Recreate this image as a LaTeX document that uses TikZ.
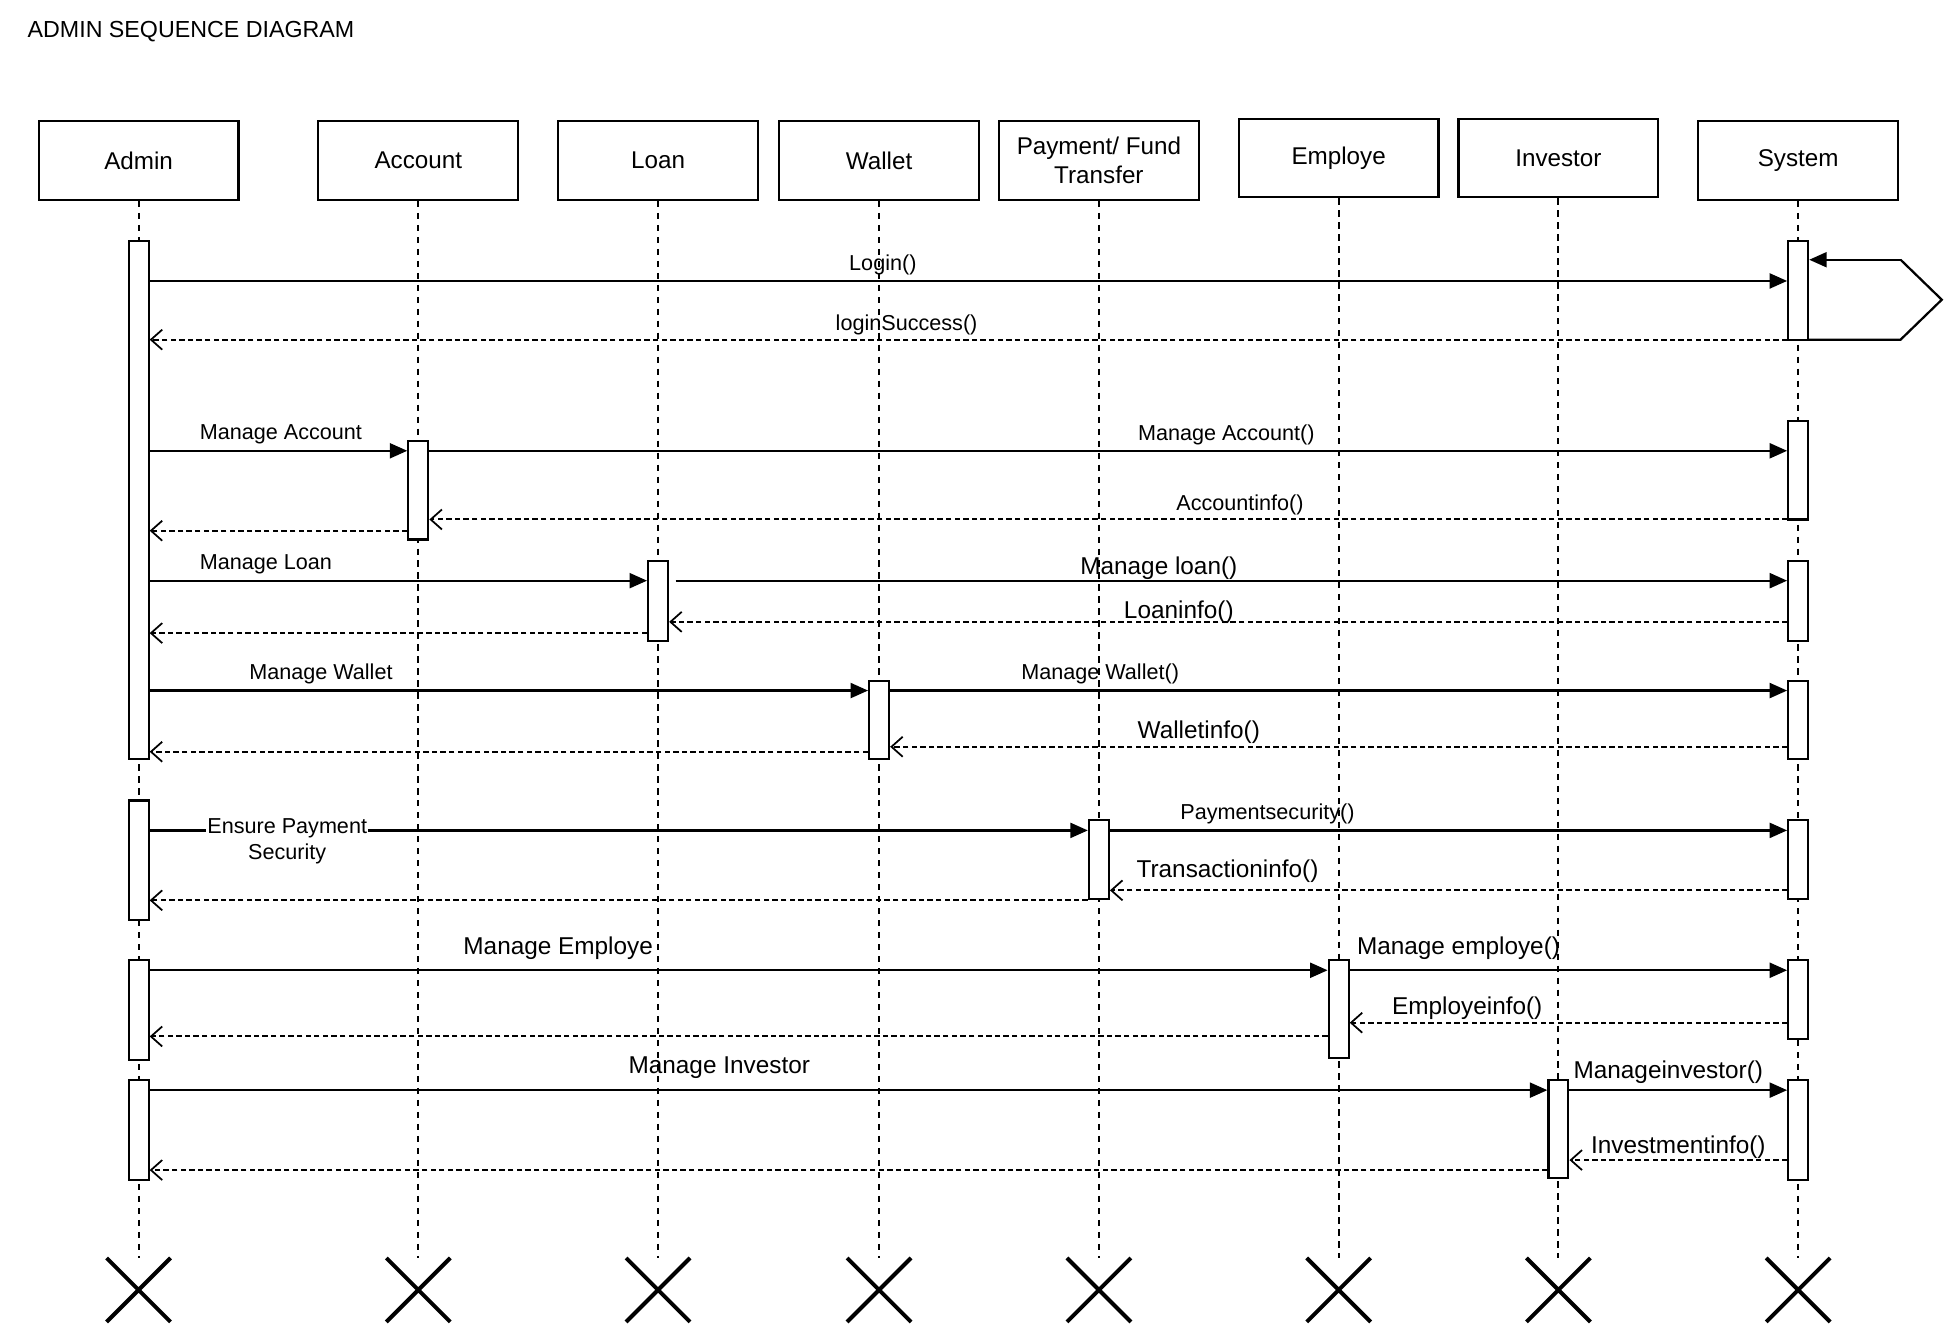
\documentclass[tikz,border=0pt]{standalone}
\usepackage{fontspec}
\setmainfont{Liberation Sans}
\usetikzlibrary{arrows.meta,shapes.misc}
\tikzset{
  obj/.style={draw,line width=1.7pt,minimum width=160,minimum height=63,inner sep=0,align=center,font=\fontsize{19.4}{23.5}\selectfont},
  act/.style={draw,fill=white,line width=1.7pt,minimum width=16,inner sep=0},
  life/.style={line width=1.6pt,dash pattern=on 5pt off 4.6pt},
  msg/.style={line width=1.8pt,-{Triangle[length=14pt,width=12pt]}},
  ret/.style={line width=1.6pt,dash pattern=on 4.3pt off 2.6pt,-{Straight Barb[length=9pt,width=16pt,line width=1.4pt]}},
  sm/.style={font=\fontsize{17.3}{21}\selectfont,inner sep=0,yshift=-2pt},
  bg/.style={font=\fontsize{19.5}{23}\selectfont,inner sep=0,yshift=-2pt},
  xmark/.style={cross out,draw,line width=3.2pt,minimum size=48,inner sep=0}
}
\newcommand\actbar[4]{\node[act,minimum height={#4-#3}] (#1) at (#2,{(#3+#4)/2}) {};}
\begin{document}
\begin{tikzpicture}[x=1pt,y=-1pt]
\useasboundingbox (0,0) rectangle (1568,1060);
\node[anchor=west,inner sep=0,font=\fontsize{18.6}{22}\selectfont] (title) at (22,25.5) {ADMIN SEQUENCE DIAGRAM};
% objects
\node[obj] (admin) at (111,128.5) {Admin};
\node[obj] (account) at (335,128.5) {Account};
\node[obj] (loan) at (527,128.5) {Loan};
\node[obj] (wallet) at (704,128.5) {Wallet};
\node[obj] (payment) at (880,128.5) {Payment/ Fund\\Transfer};
\node[obj] (employe) at (1072,126.5) {Employe};
\node[obj] (investor) at (1248,126.5) {Investor};
\node[obj] (system) at (1440,128.5) {System};
% destruction marks
\foreach \n/\x in {admin/111,account/335,loan/527,wallet/704,payment/880,employe/1072,investor/1248,system/1440}{
  \node[xmark] (x\n) at (\x,1033) {};
  \draw[life] (\n.south) -- (x\n.north);
}
% activation bars
\actbar{a1}{111}{193}{608}
\actbar{a2}{111}{641}{737}
\actbar{a3}{111}{769}{849}
\actbar{a4}{111}{865}{945}
\actbar{ac1}{335}{353}{432}
\actbar{lo1}{527}{449}{513}
\actbar{wa1}{704}{545}{608}
\actbar{pa1}{880}{657}{720}
\actbar{em1}{1072}{769}{847}
\actbar{in1}{1248}{865}{943}
\actbar{s1}{1440}{193}{272}
\actbar{s2}{1440}{337}{416}
\actbar{s3}{1440}{449}{513}
\actbar{s4}{1440}{545}{608}
\actbar{s5}{1440}{657}{720}
\actbar{s6}{1440}{769}{832}
\actbar{s7}{1440}{865}{945}
% login
\draw[msg] (a1.east |- 0,225) -- (s1.west |- 0,225);
\draw[ret] (s1.west |- 0,272) -- (a1.east |- 0,272);
\coordinate (selfa) at (1522,272);
\coordinate (selfb) at (1555,240);
\coordinate (selfc) at (1522,208);
\draw[msg,-] (s1.east |- 0,272) -- (selfa) -- (selfb) -- (selfc);
\draw[msg] (selfc) -- (s1.east |- 0,208);
\node[sm] (l1) at (707,210) {Login()};
\node[sm] (l2) at (726,258) {loginSuccess()};
% account
\draw[msg] (a1.east |- 0,361) -- (ac1.west |- 0,361);
\draw[msg] (ac1.east |- 0,361) -- (s2.west |- 0,361);
\draw[ret] (s2.west |- 0,416) -- (ac1.east |- 0,416);
\draw[ret] (ac1.west |- 0,425) -- (a1.east |- 0,425);
\node[sm] (l3) at (225,346) {Manage Account};
\node[sm] (l4) at (982,346) {Manage Account()};
\node[sm] (l5) at (993,402) {Accountinfo()};
% loan
\coordinate (loanstart) at (541,465);
\draw[msg] (a1.east |- 0,465) -- (lo1.west |- 0,465);
\draw[msg] (loanstart) -- (s3.west |- loanstart);
\draw[ret] (s3.west |- 0,498) -- (lo1.east |- 0,498);
\draw[ret] (lo1.west |- 0,507) -- (a1.east |- 0,507);
\node[sm] (l6) at (213,450) {Manage Loan};
\node[bg] (l7) at (928,453) {Manage loan()};
\node[bg] (l8) at (944,488) {Loaninfo()};
% wallet
\draw[msg] (a1.east |- 0,553) -- (wa1.west |- 0,553);
\draw[msg] (wa1.east |- 0,553) -- (s4.west |- 0,553);
\draw[ret] (s4.west |- 0,598) -- (wa1.east |- 0,598);
\draw[ret] (wa1.west |- 0,602) -- (a1.east |- 0,602);
\node[sm] (l9) at (257,538) {Manage Wallet};
\node[sm] (l10) at (881,538) {Manage Wallet()};
\node[bg] (l11) at (960,584) {Walletinfo()};
% payment
\draw[msg] (a2.east |- 0,665) -- (pa1.west |- 0,665);
\draw[msg] (pa1.east |- 0,665) -- (s5.west |- 0,665);
\draw[ret] (s5.west |- 0,713) -- (pa1.east |- 0,713);
\draw[ret] (pa1.west |- 0,721) -- (a2.east |- 0,721);
\node[sm,fill=white,align=center,inner sep=1pt] (l12) at (230,671.5) {Ensure Payment\\Security};
\node[sm] (l13) at (1015,650) {Paymentsecurity()};
\node[bg] (l14) at (983,696) {Transactioninfo()};
% employe
\draw[msg] (a3.east |- 0,777) -- (em1.west |- 0,777);
\draw[msg] (em1.east |- 0,777) -- (s6.west |- 0,777);
\draw[ret] (s6.west |- 0,819) -- (em1.east |- 0,819);
\draw[ret] (em1.west |- 0,830) -- (a3.east |- 0,830);
\node[bg] (l15) at (447,757) {Manage Employe};
\node[bg] (l16) at (1168,757) {Manage employe()};
\node[bg] (l17) at (1175,805) {Employeinfo()};
% investor
\draw[msg] (a4.east |- 0,873) -- (in1.west |- 0,873);
\draw[msg] (in1.east |- 0,873) -- (s7.west |- 0,873);
\draw[ret] (s7.west |- 0,929) -- (in1.east |- 0,929);
\draw[ret] (in1.west |- 0,937) -- (a4.east |- 0,937);
\node[bg] (l18) at (576,853) {Manage Investor};
\node[bg] (l19) at (1336,857) {Manageinvestor()};
\node[bg] (l20) at (1344,917) {Investmentinfo()};
\end{tikzpicture}
\end{document}
